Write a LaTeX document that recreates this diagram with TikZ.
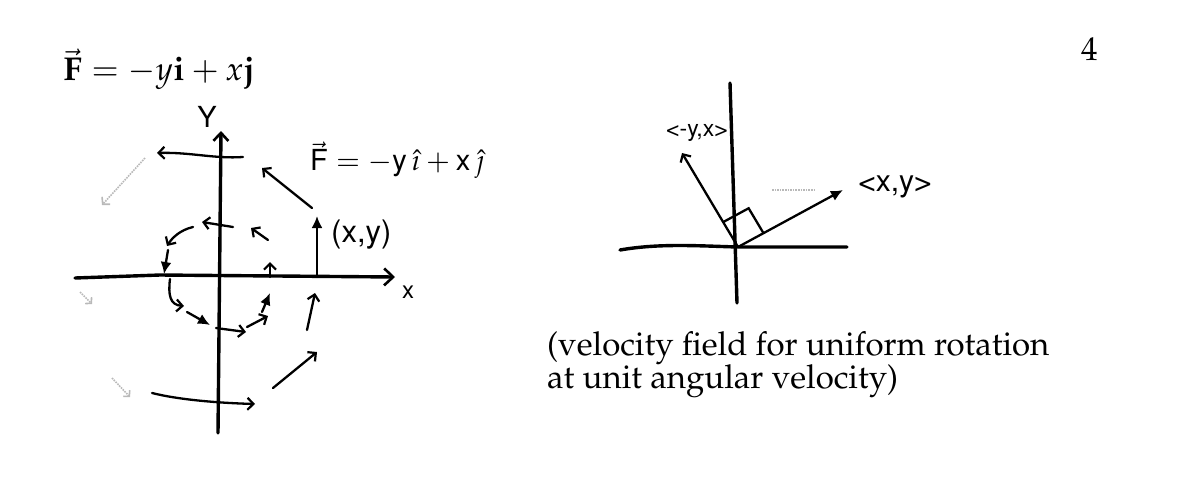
\documentclass[tikz,border=0pt]{standalone}
\usepackage[T1]{fontenc}
\usepackage{mathpazo}
\usepackage{helvet}
\usepackage{amsmath}
\usetikzlibrary{arrows.meta, calc}

\begin{document}
\begin{tikzpicture}[
    x=1pt, y=-1pt,
    axis/.style={line width=3.4pt, line cap=round},
    hand/.style={line width=2.3pt, line cap=round},
    openhead/.style={hand, -{Straight Barb[length=6pt, width=12pt, line width=2.2pt]}},
    fullhead/.style={hand, -{Latex[length=12pt, width=11pt]}},
    faint/.style={line width=1.6pt, draw=gray!55, densely dotted},
    print/.style={font=\fontsize{33}{35}\selectfont, inner sep=0pt, anchor=base west},
    scrawl/.style={font=\fontsize{29}{31}\sffamily, inner sep=0pt},
]
\useasboundingbox (0,0) rectangle (1177,496);

% Printed text
\node[print] (eq) at (63,80) {$\vec{\mathbf F} = -y\mathbf{i} + x\mathbf{j}$};
\node[print] (page) at (1081,60) {4};
\node[print] (cap1) at (547,355) {(velocity field for uniform rotation};
\node[print] (cap2) at (547,388) {at unit angular velocity)};

% Left sketch: axes
\coordinate (O) at (220,277);
\draw[axis, -{Straight Barb[length=9pt, width=17pt, line width=2.6pt]}] (75,278) -- (160,275) -- (395,277);
\draw[axis, -{Straight Barb[length=8pt, width=15pt, line width=2.6pt]}] (218,433) -- (221,131);
\node[scrawl] (ylab) at (207,117) {Y};
\node[scrawl, font=\fontsize{24}{26}\sffamily] (xlab) at (408,292) {x};

% Outer ring
\draw[openhead] (243,157) .. controls (215,159) and (190,152) .. (157,153);
\draw[faint, -{Straight Barb[length=5pt, width=11pt]}] (145,158) -- (102,205);
\draw[openhead] (312,208) -- (262,168);
\draw[fullhead] (317,277) -- (317,216);
\draw[openhead] (307,330) -- (315,293);
\draw[openhead] (273,388) -- (317,352);
\draw[openhead] (152,393) .. controls (180,400) and (220,403) .. (255,404);
\draw[faint, -{Straight Barb[length=4pt, width=9pt]}] (112,378) -- (130,397);
\draw[faint, -{Straight Barb[length=4pt, width=9pt]}] (80,292) -- (92,304);

% Inner ring
\draw[openhead] (233,227) -- (202,222);
\draw[openhead] (193,227) .. controls (180,230) and (172,238) .. (167,246);
\draw[fullhead] (168,250) -- (164,274);
\draw[openhead] (170,279) .. controls (168,295) and (170,305) .. (184,306);
\draw[fullhead] (187,312) -- (210,325);
\draw[openhead] (216,328) -- (246,332);
\draw[openhead] (247,327) -- (268,316);
\draw[fullhead] (262,312) -- (270,293);
\draw[openhead] (270,277) -- (270,262);
\draw[openhead] (268,240) -- (251,228);

% Handwritten labels
\node[scrawl, anchor=west] (fhand) at (310,160) {$\vec{\textsf{F}} = -\textsf{y}\,\hat{\imath} + \textsf{x}\,\hat{\jmath}$};
\node[scrawl, anchor=west, font=\fontsize{31}{33}\sffamily] (xyhand) at (331,234) {(x,y)};

% Right sketch
\coordinate (P) at (738,247);
\draw[axis] (730,83) -- (737,303);
\draw[axis] (620,250) .. controls (660,243) and (700,246) .. (P) -- (847,247);
\draw[openhead] (P) -- (682,153);
\draw[fullhead] (P) -- (843,190);
\coordinate (ra1) at ($(P)!29pt!(682,153)$);
\coordinate (ra2) at ($(P)!29pt!(843,190)$);
\draw[hand] (ra1) -- ($(ra1)+(ra2)-(P)$) -- (ra2);
\draw[faint] (772,190) -- (815,190);
\node[scrawl, font=\fontsize{23}{25}\sffamily] (perplab) at (697,133) {\textless-y,x\textgreater};
\node[scrawl, font=\fontsize{30}{32}\sffamily] (radlab) at (895,187) {\textless x,y\textgreater};

\end{tikzpicture}
\end{document}
